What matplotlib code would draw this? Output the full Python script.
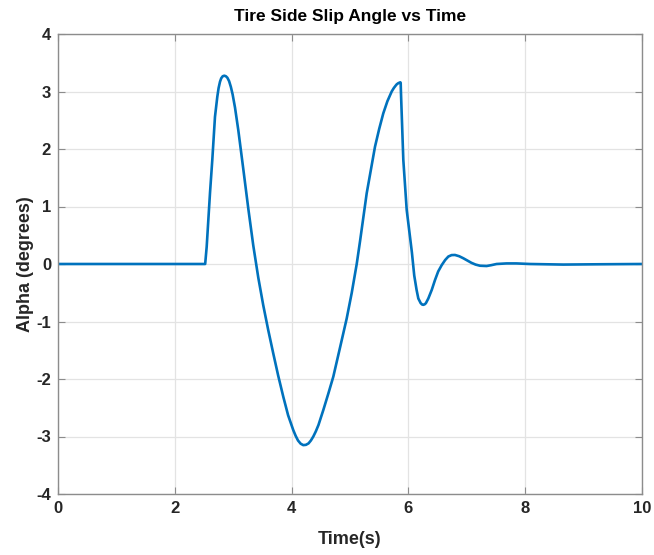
import matplotlib
matplotlib.use("Agg")
import matplotlib.pyplot as plt

plt.rcParams['font.family'] = ['Liberation Sans', 'DejaVu Sans']
plt.rcParams['axes.unicode_minus'] = False

# Simulated tire side slip angle response (time in s, alpha in degrees)
time_s = [0.0, 2.52, 2.546, 2.575, 2.603, 2.642, 2.688, 2.728, 2.75, 2.774,
          2.795, 2.82, 2.848, 2.875, 2.90, 2.93, 2.96, 2.99, 3.031, 3.087,
          3.173, 3.259, 3.344, 3.43, 3.515, 3.60, 3.687, 3.77, 3.858, 3.94,
          4.029, 4.07, 4.11, 4.155, 4.20, 4.245, 4.29, 4.33, 4.372, 4.415,
          4.46, 4.543, 4.63, 4.714, 4.83, 4.943, 5.03, 5.115, 5.171, 5.286,
          5.428, 5.50, 5.57, 5.64, 5.714, 5.75, 5.78, 5.80, 5.827, 5.85,
          5.862, 5.868, 5.873, 5.913, 5.971, 6.03, 6.06, 6.10, 6.14, 6.17,
          6.21, 6.235, 6.256, 6.28, 6.30, 6.341, 6.40, 6.455, 6.51, 6.57,
          6.63, 6.684, 6.74, 6.798, 6.87, 6.94, 7.01, 7.08, 7.15, 7.226,
          7.34, 7.42, 7.51, 7.68, 7.85, 8.08, 8.65, 9.23, 10.0]
alpha_deg = [0.0, 0.0, 0.30, 0.78, 1.24, 1.81, 2.56, 2.91, 3.06, 3.17,
             3.23, 3.265, 3.275, 3.265, 3.24, 3.18, 3.08, 2.95, 2.72, 2.33,
             1.65, 0.96, 0.32, -0.24, -0.72, -1.15, -1.56, -1.94, -2.31, -2.63,
             -2.89, -2.99, -3.07, -3.125, -3.15, -3.145, -3.12, -3.07, -3.00, -2.91,
             -2.80, -2.54, -2.25, -1.96, -1.45, -0.95, -0.50, 0.0, 0.39, 1.23,
             2.04, 2.35, 2.62, 2.83, 3.00, 3.06, 3.10, 3.125, 3.145, 3.155,
             3.16, 3.15, 2.97, 1.81, 0.94, 0.45, 0.20, -0.20, -0.45, -0.60,
             -0.68, -0.705, -0.71, -0.70, -0.68, -0.60, -0.45, -0.28, -0.13, -0.02,
             0.07, 0.13, 0.155, 0.157, 0.135, 0.10, 0.06, 0.02, -0.01, -0.03,
             -0.035, -0.02, 0.0, 0.01, 0.01, 0.0, -0.01, -0.005, 0.0]

x_ticks = [0, 2, 4, 6, 8, 10]
y_ticks = [-4, -3, -2, -1, 0, 1, 2, 3, 4]

fig = plt.figure(figsize=(6.54, 5.55), dpi=100)
ax = fig.add_axes([58 / 654, 1 - 494 / 555, 584 / 654, 460 / 555])

ax.plot(time_s, alpha_deg, color='#0072BD', linewidth=1.9,
        solid_joinstyle='round', solid_capstyle='round')

ax.set_xlim(0, 10)
ax.set_ylim(-4, 4)
ax.set_xticks(x_ticks)
ax.set_yticks(y_ticks)
ax.set_xticklabels([str(v) for v in x_ticks])
ax.set_yticklabels([str(v) for v in y_ticks])

ax.grid(True, color='#e3e3e3', linewidth=0.9)
ax.set_axisbelow(True)
for sp in ax.spines.values():
    sp.set_color('#8c8c8c')
    sp.set_linewidth(1.0)

ax.tick_params(direction='in', length=5, width=0.8, color='#8c8c8c',
               top=True, right=True, labelsize=12, pad=5)
for lab in ax.get_xticklabels() + ax.get_yticklabels():
    lab.set_fontweight('bold')
    lab.set_color('#262626')

ax.set_title('Tire Side Slip Angle vs Time', fontsize=12.5, fontweight='bold',
             color='black', pad=9)
ax.set_xlabel('Time(s)', fontsize=13, fontweight='bold', color='#262626', labelpad=11)
ax.set_ylabel('Alpha (degrees)', fontsize=13, fontweight='bold', color='#262626', labelpad=2)

fig.savefig('out.png', dpi=100, facecolor='white')
